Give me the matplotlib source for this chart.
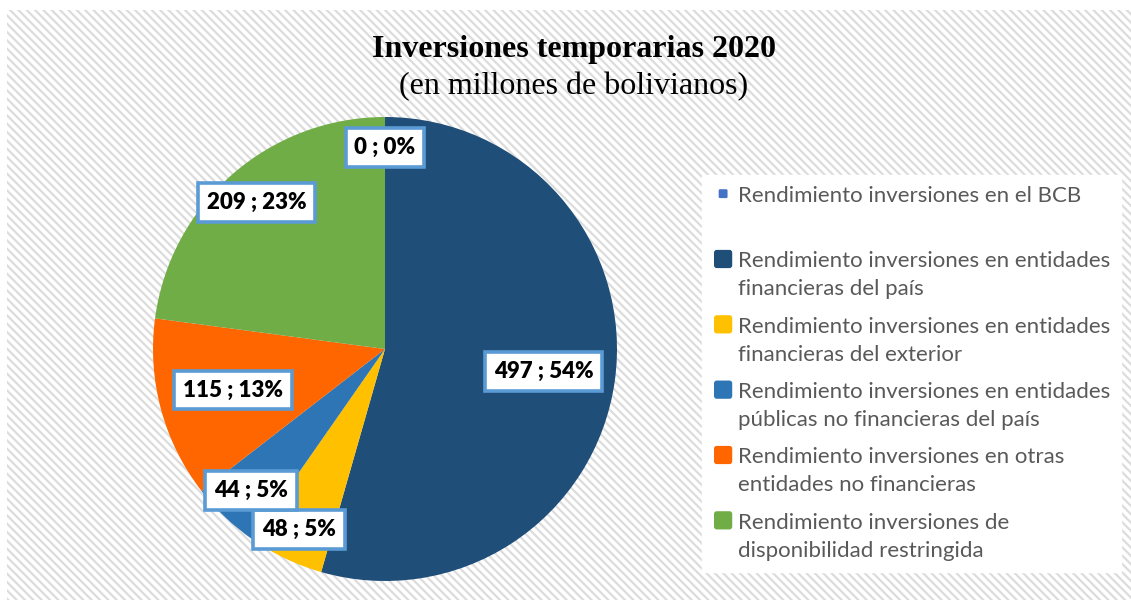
import matplotlib
matplotlib.use("Agg")
from matplotlib import pyplot as plt
from matplotlib.patches import Rectangle, FancyBboxPatch, Patch
from matplotlib.legend_handler import HandlerPatch
import numpy as np

# datos (millones de Bs)
categorias = [
    "Rendimiento inversiones en el BCB\n ",
    "Rendimiento inversiones en entidades\nfinancieras del país",
    "Rendimiento inversiones en entidades\nfinancieras del exterior",
    "Rendimiento inversiones en entidades\npúblicas no financieras del país",
    "Rendimiento inversiones en otras\nentidades no financieras",
    "Rendimiento inversiones de\ndisponibilidad restringida",
]
valores = [0, 497, 48, 44, 115, 209]

colores = ["#4472C4", "#1F4E79", "#FFC000", "#2E75B6", "#FF6600", "#70AD47"]
dist_etiquetas = [0.87, 0.69, 0.86, 0.84, 0.68, 0.84]
tam_marcador = [0.4, 0.82, 0.82, 0.82, 0.82, 0.82]

plt.rcParams['hatch.color'] = '#dcdcdc'
plt.rcParams['hatch.linewidth'] = 1.6

fig = plt.figure(figsize=(11.31, 6), dpi=100)
fig.patch.set_facecolor('white')

# fondo rayado
fondo = Rectangle((7 / 1131, 0), 1, 1 - 10 / 600, transform=fig.transFigure,
                  facecolor='white', edgecolor='#dcdcdc', hatch='\\\\\\\\',
                  linewidth=0, zorder=-5)
fig.patches.append(fondo)

ax = fig.add_axes([153 / 1131, 1 - 581 / 600, 464 / 1131, 464 / 600])
ax.set_facecolor('none')

total = sum(valores)
wedges, _ = ax.pie(valores, colors=colores, startangle=90, counterclock=False,
                   radius=1, wedgeprops=dict(linewidth=0))
ax.set_xlim(-1, 1)
ax.set_ylim(-1, 1)
ax.set_aspect('equal')
ax.axis('off')

for w, v, d in zip(wedges, valores, dist_etiquetas):
    ang = np.deg2rad((w.theta1 + w.theta2) / 2)
    pct = round(100 * v / total)
    ax.text(d * np.cos(ang), d * np.sin(ang), f"{v} ; {pct}%",
            ha='center', va='center', fontsize=16, fontweight='heavy',
            family='Lato', color='black', zorder=5,
            bbox=dict(boxstyle='square,pad=0.4', facecolor='white',
                      edgecolor='#5B9BD5', linewidth=2.6))

fig.text(0.5075, 1 - 50 / 600, "Inversiones temporarias 2020", ha='center', va='center',
         fontsize=23, fontweight='bold', family='Liberation Serif')
fig.text(0.5075, 1 - 87 / 600, "(en millones de bolivianos)", ha='center', va='center',
         fontsize=23, family='Liberation Serif')


def marcador(frac):
    def crear(legend, orig_handle, xdescent, ydescent, width, height, fontsize):
        s = fontsize * frac
        shift = fontsize * 0.75
        x = -xdescent + (width - s) / 2
        y = -ydescent + height / 2 - s / 2 + shift
        return FancyBboxPatch((x, y), s, s, boxstyle='round,pad=0,rounding_size=%f' % (s * 0.15))
    return crear


handles = [Patch(facecolor=c, edgecolor='none') for c in colores]
hmap = {h: HandlerPatch(patch_func=marcador(f)) for h, f in zip(handles, tam_marcador)}
leg = fig.legend(handles, categorias, handler_map=hmap, loc='upper left',
                 bbox_to_anchor=(702 / 1131, 1 - 175 / 600), borderaxespad=0,
                 frameon=True, fancybox=False, facecolor='white', edgecolor='white',
                 framealpha=1, prop=dict(family='Lato', size=16),
                 handlelength=0.9, handletextpad=0.2, labelspacing=0.78,
                 borderpad=0.5)
for t in leg.get_texts():
    t.set_color('#595959')
    t.set_linespacing(1.5)

fig.savefig('out.png', dpi=100)
